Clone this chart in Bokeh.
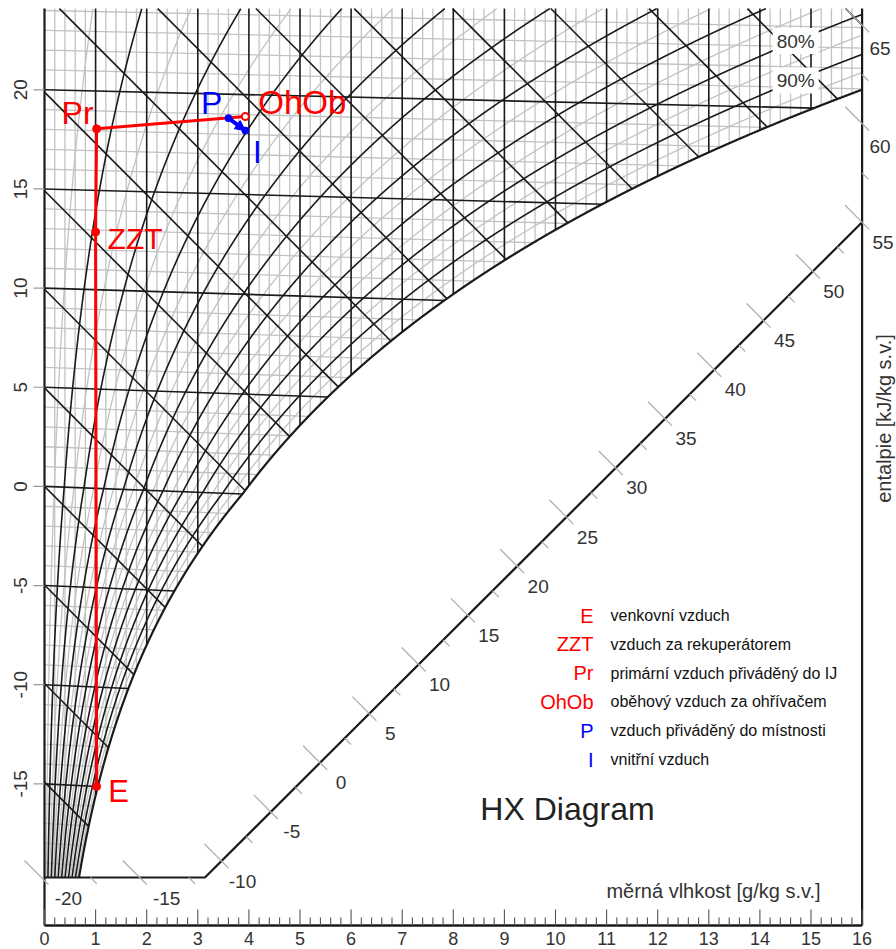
import numpy as np
from bokeh.plotting import figure
from bokeh.models import Range1d, Arrow, NormalHead
from bokeh.core.properties import value
from bokeh.embed import file_html
from bokeh.resources import INLINE

# ---------------------------------------------------------------- data
# process states: humidity ratio [g/kg] and dry-bulb temperature [°C]
state_names = ["E", "ZZT", "Pr", "OhOb", "P", "I"]
state_x = [1.02, 1.00, 1.02, 3.93, 3.60, 3.93]
state_t = [-15.0, 12.9, 18.1, 18.9, 18.8, 18.2]
state_color = ["red", "red", "red", "red", "blue", "blue"]
state_desc = [
    "venkovní vzduch",
    "vzduch za rekuperátorem",
    "primární vzduch přiváděný do IJ",
    "oběhový vzduch za ohřívačem",
    "vzduch přiváděný do místnosti",
    "vnitřní vzduch",
]
red_path = ["E", "ZZT", "Pr", "OhOb"]
blue_path = ["P", "I"]

temp_labels = [-15, -10, -5, 0, 5, 10, 15, 20]
x_labels = list(range(0, 17))
h_labels = list(range(-20, 70, 5))
rh_marked = [80, 90]

# ---------------------------------------------------------------- psychrometrics
P_ATM = 98700.0      # Pa
CPA = 1.006          # kJ/kgK
R_SKEW = 2.6         # skew of the Mollier chart, kJ/kg per g/kg
X_MAX = 16.0


def p_sat(t):
    t = np.asarray(t, dtype=float)
    with np.errstate(all="ignore"):
        water = 611.2 * np.exp(17.62 * t / (243.12 + t))
        ice = 611.2 * np.exp(22.46 * t / (272.62 + t))
    return np.where(t >= 0.0, water, ice)


def humidity_ratio(t, phi):
    ps = phi * p_sat(t)
    return 622.0 * ps / (P_ATM - ps)


def skew_v(x, t):
    h = CPA * t + x * (2.501 + 0.00186 * t)
    return (h - R_SKEW * x) / CPA


def temp_at(x, v):
    return (CPA * v + x * (R_SKEW - 2.501)) / (CPA + 0.00186 * x)


def rel_hum(x, v):
    t = temp_at(x, v)
    return x * P_ATM / ((622.0 + x) * p_sat(t))


# ---------------------------------------------------------------- canvas
W, H = 896, 949
X0_PX, SX = 44.0, 51.1
V0_PX, SV = 485.9, 19.83
V_TOP = (V0_PX - 8) / SV
V_BOT = (V0_PX - 877) / SV
V_AXIS = (V0_PX - 925) / SV


def px(xp, yp):
    return (xp - X0_PX) / SX, (V0_PX - yp) / SV


p = figure(width=W, height=H, output_backend="svg", toolbar_location=None,
           x_range=Range1d(-X0_PX / SX, (W - X0_PX) / SX),
           y_range=Range1d((V0_PX - H) / SV, V0_PX / SV),
           x_axis_location=None, y_axis_location=None,
           min_border=0, outline_line_color=None,
           background_fill_color="white", border_fill_color="white")
p.grid.visible = False

FONT = value("Liberation Sans")
LIGHT, DARK = "#c2c2c2", "#1a1a1a"


def inside(xs, vs, check_rh=True):
    with np.errstate(all="ignore"):
        ok = (xs >= -1e-9) & (xs <= X_MAX + 1e-9) & (vs >= V_BOT - 1e-9) & (vs <= V_TOP + 1e-9)
        if check_rh:
            ok &= rel_hum(xs, vs) <= 1.0
    return ok


def runs(xs, vs, straight=True, check_rh=True):
    ok = inside(xs, vs, check_rh)
    idx = np.flatnonzero(ok)
    out = []
    if idx.size < 2:
        return out
    br = np.flatnonzero(np.diff(idx) > 1)
    starts = np.r_[idx[0], idx[br + 1]]
    ends = np.r_[idx[br], idx[-1]]
    for s, e in zip(starts, ends):
        if e <= s:
            continue
        if straight:
            out.append(([xs[s], xs[e]], [vs[s], vs[e]]))
        else:
            out.append((list(xs[s:e + 1]), list(vs[s:e + 1])))
    return out


light = ([], [])
dark = ([], [])


def add(group, segs):
    for a, b in segs:
        group[0].append(a)
        group[1].append(b)


# vertical lines of constant humidity ratio
vv = np.linspace(V_BOT, V_TOP, 4000)
for k in range(1, 80):
    xk = k * 0.2
    add(dark if k % 5 == 0 else light, runs(np.full_like(vv, xk), vv))

# isotherms
xx = np.linspace(0, X_MAX, 4000)
for t in range(-20, 27):
    add(dark if t % 5 == 0 else light, runs(xx, skew_v(xx, t)))

# isenthalps
for h in range(-20, 75, 5):
    add(dark, runs(xx, (h - R_SKEW * xx) / CPA))

# relative humidity curves
tt = np.linspace(-30, 35, 3000)
for k in range(1, 20):
    phi = k * 0.05
    xs = humidity_ratio(tt, phi)
    add(dark if k % 2 == 0 else light, runs(xs, skew_v(xs, tt), straight=False, check_rh=False))

p.multi_line(light[0], light[1], line_color=LIGHT, line_width=1.3)
p.multi_line(dark[0], dark[1], line_color=DARK, line_width=1.6)

# saturation curve
sat_x = humidity_ratio(tt, 1.0)
for a, b in runs(sat_x, skew_v(sat_x, tt), straight=False, check_rh=False):
    p.line(a, b, line_color=DARK, line_width=2.2)

# relative humidity labels on a white box
for rh in rh_marked:
    xl = 14.7
    tl = np.interp(xl, humidity_ratio(tt, rh / 100.0), tt)
    vl = skew_v(xl, tl)
    p.quad(left=xl - 23 / SX, right=xl + 23 / SX, bottom=vl - 13 / SV, top=vl + 13 / SV,
           fill_color="white", line_color=None)
    p.text([xl], [vl], text=[f"{rh}%"], text_font=FONT, text_font_size="19px",
           text_color="#333333", text_align="center", text_baseline="middle")

# ---------------------------------------------------------------- frame and enthalpy scale
K_PX = (R_SKEW / CPA) * SV / SX
S_PERP = SX * SX / ((R_SKEW / CPA) * SV * SV)
H_CORNER = 55.0
V_CORNER = (H_CORNER - X_MAX * R_SKEW) / CPA
X_CORNER = X_MAX - (V_CORNER - V_BOT) / S_PERP

p.line([0, 0], [V_AXIS, V_TOP], line_color=DARK, line_width=2.2)
p.line([X_MAX, X_MAX], [V_AXIS, V_TOP], line_color=DARK, line_width=2.2)
p.line([0, X_MAX], [V_AXIS, V_AXIS], line_color=DARK, line_width=2.5)
p.line([0, X_CORNER, X_MAX], [V_BOT, V_BOT, V_CORNER], line_color=DARK, line_width=2.2)


def scale_crossing(h):
    xh = (h - CPA * V_BOT) / R_SKEW
    if xh <= X_CORNER:
        return xh, V_BOT, "bottom"
    if h <= H_CORNER:
        x = (h - CPA * V_CORNER + X_MAX * CPA * S_PERP) / (R_SKEW + CPA * S_PERP)
        return x, V_CORNER + S_PERP * (x - X_MAX), "diag"
    return X_MAX, (h - X_MAX * R_SKEW) / CPA, "right"


ux, uy = 1 / np.hypot(1, K_PX), K_PX / np.hypot(1, K_PX)
label_off = {"bottom": (27, 21), "diag": (21, 20), "right": (18, 23)}
tick_x, tick_y = [], []
hl_x, hl_y, hl_t = [], [], []
for h in np.arange(-20, 70, 2.5):
    xc, vc, seg = scale_crossing(h)
    if xc < -0.1 or vc > V_TOP:
        continue
    major = abs(h % 5) < 1e-9
    s0, s1 = (-24, 10) if major else (0, 9)
    tick_x.append([xc + s0 * ux / SX, xc + s1 * ux / SX])
    tick_y.append([vc - s0 * uy / SV, vc - s1 * uy / SV])
    if major and int(h) in h_labels:
        dx, dy = label_off[seg]
        hl_x.append(xc + dx / SX)
        hl_y.append(vc - dy / SV)
        hl_t.append(str(int(h)))
p.multi_line(tick_x, tick_y, line_color="#b0b0b0", line_width=1.3)
p.text(hl_x, hl_y, text=hl_t, text_font=FONT, text_font_size="19px", text_color="#333333",
       text_align="center", text_baseline="middle")

# humidity ratio axis
maj_x = [[x, x] for x in x_labels]
maj_y = [[V_AXIS, V_AXIS + 16 / SV] for _ in x_labels]
min_vals = [k * 0.2 for k in range(1, 80) if k % 5]
p.multi_line(maj_x, maj_y, line_color="#555555", line_width=1.1)
p.multi_line([[x, x] for x in min_vals], [[V_AXIS, V_AXIS + 8 / SV] for _ in min_vals],
             line_color="#555555", line_width=1.1)
p.text(x_labels, [px(0, 938.3)[1]] * len(x_labels), text=[str(v) for v in x_labels],
       text_font=FONT, text_font_size="18px", text_color="#333333",
       text_align="center", text_baseline="middle")
ax, ay = px(713, 890)
p.text([ax], [ay], text=["měrná vlhkost [g/kg s.v.]"], text_font=FONT, text_font_size="20px",
       text_color="#333333", text_align="center", text_baseline="middle")

# temperature axis
p.multi_line([[-11 / SX, 0] for _ in temp_labels], [[t, t] for t in temp_labels],
             line_color="#999999", line_width=1.2)
p.text([px(20, 0)[0]] * len(temp_labels), temp_labels, text=[str(t) for t in temp_labels],
       angle=np.pi / 2, text_font=FONT, text_font_size="19px", text_color="#333333",
       text_align="center", text_baseline="middle")

# enthalpy axis title
ex, ey = px(883, 418)
p.text([ex], [ey], text=["entalpie [kJ/kg s.v.]"], angle=np.pi / 2, text_font=FONT,
       text_font_size="20px", text_color="#333333", text_align="center", text_baseline="middle")

# ---------------------------------------------------------------- process
state_v = [float(skew_v(x, t)) for x, t in zip(state_x, state_t)]
pos = {n: (x, v) for n, x, v in zip(state_names, state_x, state_v)}

p.line([pos[n][0] for n in red_path], [pos[n][1] for n in red_path],
       line_color="red", line_width=3)
px0, pv0 = pos[blue_path[0]]
px1, pv1 = pos[blue_path[1]]
p.add_layout(Arrow(end=NormalHead(size=10, fill_color="blue", line_color="blue"),
                   x_start=px0, y_start=pv0, x_end=px1, y_end=pv1,
                   line_color="blue", line_width=4))

p.scatter([pos[n][0] for n in ["E", "ZZT", "Pr"]], [pos[n][1] for n in ["E", "ZZT", "Pr"]],
          size=8, fill_color="red", line_color="red")
p.scatter([pos["OhOb"][0]], [pos["OhOb"][1]], size=7, fill_color="white",
          line_color="red", line_width=2)
p.scatter([pos[n][0] for n in blue_path], [pos[n][1] for n in blue_path],
          size=7, fill_color="blue", line_color="blue")

# state labels: offset in px, alignment and font size
label_layout = {"E": (22, 5, "center", 31), "ZZT": (12, 6, "left", 30),
                "Pr": (-3, -16, "right", 32), "OhOb": (13, -14, "left", 33),
                "P": (-6, -15, "right", 32), "I": (12, 22, "center", 31)}
for n, c in zip(state_names, state_color):
    dx, dy, al, fs = label_layout[n]
    p.text([pos[n][0] + dx / SX], [pos[n][1] - dy / SV], text=[n], text_font=FONT,
           text_font_size=f"{fs}px", text_color=c, text_align=al, text_baseline="middle")

# legend
for i, (n, c, d) in enumerate(zip(state_names, state_color, state_desc)):
    yrow = 615 + 28.8 * i
    sx_, sy_ = px(593, yrow)
    dx_, _ = px(610, yrow)
    p.text([sx_], [sy_], text=[n], text_font=FONT, text_font_size="20px", text_color=c,
           text_align="right", text_baseline="middle")
    p.text([dx_], [sy_], text=[d], text_font=FONT, text_font_size="16px", text_color="#111111",
           text_align="left", text_baseline="middle")

tx, ty = px(567, 808)
p.text([tx], [ty], text=["HX Diagram"], text_font=FONT, text_font_size="32px",
       text_color="#222222", text_align="center", text_baseline="middle")

open("out.html", "w").write(file_html(p, INLINE))
